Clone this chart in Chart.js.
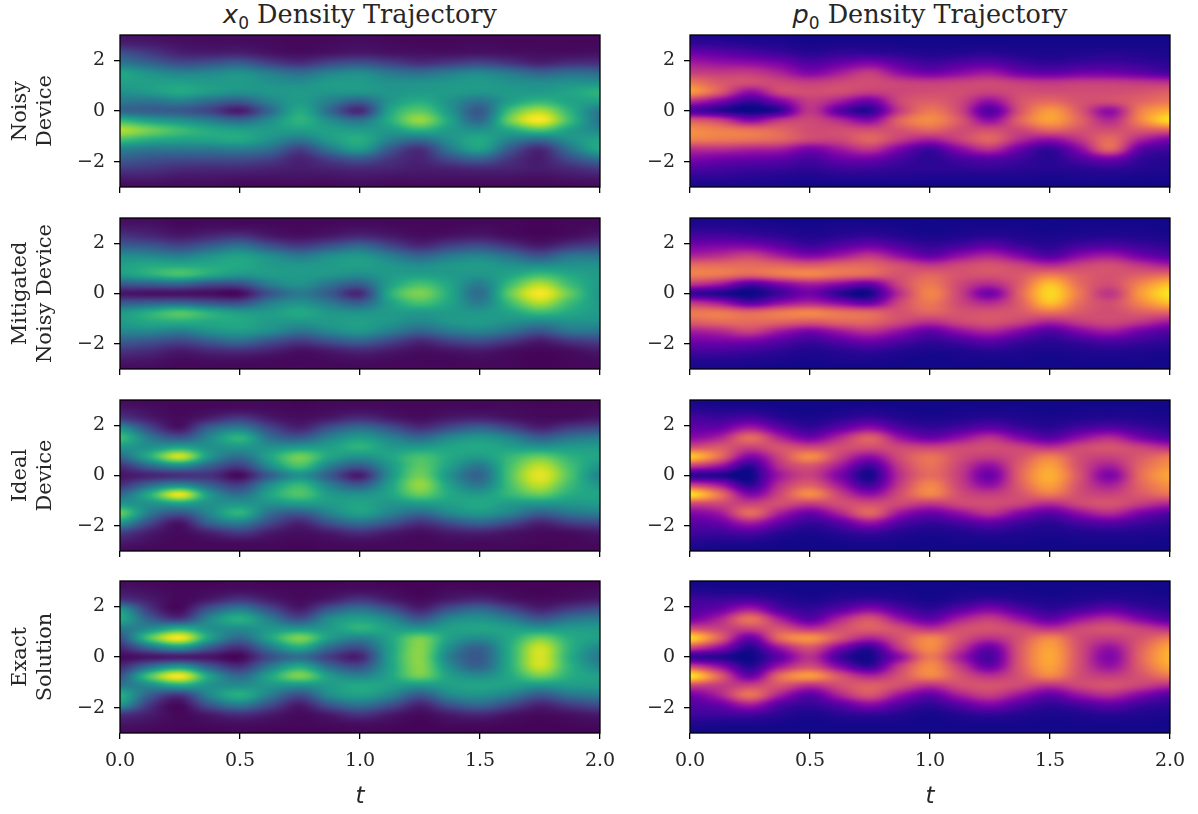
<!DOCTYPE html>
<html>
<head>
<meta charset="utf-8">
<title>Density Trajectory</title>
<script src="https://cdn.jsdelivr.net/npm/chart.js@4"></script>
<style>
    body { margin: 0; background: #fff; width: 1198px; height: 814px; overflow: hidden; position: relative; }
    canvas { position: absolute; }
    .title { position: absolute; top: 0; width: 480px; text-align: center; font: 25.5px "DejaVu Serif"; color: #262626; line-height: 28px; white-space: nowrap; }
    .title i { font-family: "DejaVu Sans"; }
    .title sub { font-family: "DejaVu Sans"; font-size: 17px; line-height: 0; }
</style>
</head>
<body>
<div class="title" style="left:120px"><i>x</i><sub>0</sub> Density Trajectory</div>
<div class="title" style="left:690px"><i>p</i><sub>0</sub> Density Trajectory</div>
<canvas id="c0"></canvas><canvas id="c1"></canvas><canvas id="c2"></canvas><canvas id="c3"></canvas>
<canvas id="c4"></canvas><canvas id="c5"></canvas><canvas id="c6"></canvas><canvas id="c7"></canvas>
<script>
// grid the densities were read on
const times = [0, 0.125, 0.25, 0.375, 0.5, 0.625, 0.75, 0.875, 1, 1.125, 1.25, 1.375, 1.5, 1.625, 1.75, 1.875, 2];
const positions = [3, 2.625, 2.25, 1.875, 1.5, 1.125, 0.75, 0.375, 0, -0.375, -0.75, -1.125, -1.5, -1.875, -2.25, -2.625, -3];
const xTicks = [0, 0.5, 1, 1.5, 2];
const yTicks = [-2, 0, 2];
const rowLabels = [['Noisy', 'Device'], ['Mitigated', 'Noisy Device'], ['Ideal', 'Device'], ['Exact', 'Solution']];

// one line per time, top (x=3) to bottom (x=-3), percent of the colour range
const x0Noisy = [
    [5,10,26,40,58,56,50,40,33,66,88,70,44,30,18,8,3],
    [4,8,18,32,50,56,54,38,30,56,78,62,40,26,16,8,3],
    [3,5,10,24,44,56,60,42,28,50,68,58,40,24,13,6,3],
    [3,4,9,26,46,54,54,34,20,42,60,58,40,24,12,6,3],
    [3,4,10,30,50,54,50,28,8,34,56,60,42,24,12,5,2],
    [3,3,6,20,42,50,52,44,34,48,54,50,36,20,10,5,2],
    [2,2,4,14,36,48,54,54,60,64,56,40,20,10,8,5,2],
    [2,3,6,22,44,54,52,42,34,48,56,54,40,20,10,5,2],
    [3,4,8,26,48,54,52,30,12,38,54,62,54,28,12,6,3],
    [2,3,6,20,40,50,52,52,58,62,54,44,28,16,10,5,2],
    [2,2,5,14,36,50,54,62,74,84,64,36,14,10,8,5,2],
    [2,2,5,18,42,52,54,50,52,58,54,50,40,24,10,5,2],
    [2,3,6,22,46,54,52,38,28,34,50,60,56,32,12,5,2],
    [2,2,5,16,40,50,54,56,70,78,60,44,28,16,10,5,2],
    [2,2,4,10,32,48,54,66,88,99,72,36,12,8,8,4,2],
    [2,2,4,14,36,50,58,58,64,68,56,50,38,24,12,6,2],
    [2,2,5,14,34,50,64,56,40,38,46,58,60,38,18,7,3]
];
const x0Mitigated = [
    [3,7,16,30,48,56,54,28,6,28,52,54,46,30,16,7,3],
    [3,6,12,28,46,60,62,30,5,30,62,60,46,27,13,6,3],
    [2,3,8,22,42,60,70,32,5,32,72,62,42,22,8,3,2],
    [2,4,12,30,50,60,60,24,4,26,62,60,50,30,12,4,2],
    [2,4,16,38,56,60,52,24,3,24,54,60,54,36,14,4,2],
    [2,3,8,26,48,54,54,42,26,42,54,54,48,26,10,3,2],
    [2,2,5,18,40,52,54,50,40,50,60,52,38,18,5,2,2],
    [2,3,8,26,48,54,52,38,28,40,52,54,46,26,8,3,2],
    [2,4,12,34,52,56,48,30,12,30,50,56,52,32,12,4,2],
    [2,3,8,22,42,52,54,56,62,56,54,52,42,22,8,3,2],
    [2,2,4,12,32,48,56,70,80,70,54,46,32,12,4,2,2],
    [2,2,6,20,40,52,54,58,60,58,54,52,40,20,6,2,2],
    [2,3,8,24,44,54,52,42,36,42,52,54,44,24,8,3,2],
    [2,2,4,16,36,50,58,68,76,68,58,50,36,16,4,2,2],
    [1,1,2,8,26,48,68,88,99,88,68,46,26,8,2,1,1],
    [2,2,4,16,38,50,60,68,76,68,60,50,38,16,4,2,2],
    [2,3,8,20,38,50,54,54,52,54,54,50,38,20,8,3,2]
];
const x0Ideal = [
    [3,7,18,50,68,52,34,14,6,14,34,52,76,52,20,8,3],
    [2,4,8,22,40,50,62,34,10,34,62,50,40,22,8,4,2],
    [2,2,3,6,26,58,92,46,14,46,96,56,26,6,3,2,2],
    [2,3,10,32,46,50,52,30,14,30,52,50,46,32,10,3,2],
    [2,4,18,42,64,52,36,18,3,18,36,52,64,42,18,4,2],
    [2,3,8,22,36,50,58,48,30,48,58,50,36,22,8,3,2],
    [1,2,4,10,28,54,78,70,50,66,72,54,28,10,4,2,1],
    [2,3,8,26,44,56,58,42,28,42,54,54,44,26,8,3,2],
    [2,4,14,36,54,64,50,28,8,28,50,58,56,36,14,4,2],
    [2,3,8,26,44,54,58,52,50,56,58,52,44,26,8,3,2],
    [2,2,4,14,34,54,70,74,78,84,76,54,34,14,4,2,2],
    [2,3,8,24,46,58,60,56,50,56,60,56,46,24,8,3,2],
    [2,3,10,32,52,60,54,40,32,40,54,60,52,32,10,3,2],
    [2,3,6,22,44,56,66,70,72,70,66,54,44,22,6,3,2],
    [1,2,3,10,30,52,76,90,96,90,76,52,30,10,3,2,1],
    [2,2,4,18,38,54,64,70,72,68,62,52,38,18,4,2,2],
    [2,3,7,22,42,54,58,52,44,52,58,54,42,22,7,3,2]
];
const x0Exact = [
    [3,6,16,52,60,40,26,12,3,12,26,40,62,52,16,6,3],
    [2,4,8,16,30,48,72,36,6,36,72,48,30,16,8,4,2],
    [1,2,2,3,16,62,98,52,8,52,98,60,16,3,2,2,1],
    [1,3,8,28,46,50,56,28,6,28,56,50,46,28,8,3,1],
    [2,4,16,42,62,48,34,14,2,14,34,48,62,42,14,4,2],
    [1,3,8,24,42,52,58,40,24,40,58,52,42,24,8,3,1],
    [1,2,3,8,24,52,80,60,36,60,80,50,24,8,3,2,1],
    [1,3,8,28,48,54,54,34,18,34,54,54,48,28,8,3,1],
    [2,4,16,38,56,64,44,24,10,24,44,60,56,38,16,4,2],
    [1,3,8,26,46,56,58,56,56,56,58,56,46,26,8,3,1],
    [1,1,3,10,28,52,78,82,82,82,78,52,28,10,3,1,1],
    [1,3,8,26,46,56,56,48,42,48,56,56,46,26,8,3,1],
    [1,3,12,34,50,58,48,32,28,32,48,58,50,34,12,3,1],
    [1,2,6,22,42,56,60,62,62,62,60,56,42,22,6,2,1],
    [1,1,3,10,28,52,78,92,94,92,78,52,28,10,3,1,1],
    [1,2,5,18,38,54,62,64,62,64,62,54,38,18,5,2,1],
    [1,3,8,24,42,54,56,46,40,46,56,54,42,24,8,3,1]
];
const p0Noisy = [
    [4,8,22,36,48,66,76,40,14,56,72,68,42,26,14,6,2],
    [3,7,18,32,46,56,56,24,6,48,68,66,42,22,12,6,2],
    [2,5,14,30,46,52,30,8,0,28,64,64,38,20,10,5,2],
    [2,4,10,24,38,50,50,24,8,44,60,60,36,18,9,4,2],
    [1,2,6,14,26,46,52,46,44,50,52,50,24,12,7,3,1],
    [1,3,8,20,36,50,52,34,16,40,52,50,34,20,10,4,1],
    [1,3,8,26,46,52,46,20,6,28,52,60,44,22,10,4,1],
    [1,2,6,16,30,48,50,50,46,60,54,46,24,12,7,4,1],
    [1,2,4,10,22,46,52,58,66,72,60,36,10,6,6,3,1],
    [1,2,5,14,28,48,52,50,50,56,52,48,28,12,7,3,1],
    [1,2,6,16,34,50,48,30,14,30,52,60,42,16,8,3,1],
    [1,2,4,10,22,46,52,54,54,60,50,40,20,10,6,3,1],
    [1,2,3,7,18,44,52,62,76,78,60,30,8,5,5,2,1],
    [1,2,4,9,22,46,52,54,56,60,54,44,28,14,6,3,1],
    [1,2,5,10,22,46,52,52,30,40,52,62,60,24,8,3,1],
    [1,2,4,8,18,44,54,60,68,70,56,38,18,8,5,2,1],
    [1,2,3,6,12,42,58,66,82,94,58,24,10,5,4,2,1]
];
const p0Mitigated = [
    [2,5,12,24,38,62,68,44,8,44,66,58,36,22,12,5,2],
    [2,5,12,26,42,62,66,34,4,34,66,62,40,24,12,5,2],
    [2,4,10,26,48,62,60,14,0,16,60,62,48,24,10,4,2],
    [1,3,7,18,36,60,66,26,10,30,66,60,34,16,7,3,1],
    [1,2,4,10,26,56,70,36,22,38,70,56,24,10,4,2,1],
    [1,3,6,16,34,60,64,28,6,28,64,60,34,16,6,3,1],
    [1,3,8,22,44,60,60,20,2,20,60,60,42,22,8,3,1],
    [1,2,5,14,30,52,54,50,42,50,54,50,30,14,5,2,1],
    [1,1,3,8,18,44,60,66,70,66,60,42,18,8,3,1,1],
    [1,2,4,12,30,50,54,50,48,50,54,50,30,12,4,2,1],
    [1,2,6,18,38,54,54,40,22,40,54,54,38,18,6,2,1],
    [1,2,4,10,26,48,56,58,60,58,56,48,26,10,4,2,1],
    [1,1,3,6,14,40,66,86,92,86,64,38,14,6,3,1,1],
    [1,2,4,12,28,48,58,62,66,62,56,46,26,10,4,2,1],
    [1,2,5,14,34,52,54,52,44,52,52,50,34,14,5,2,1],
    [1,2,4,10,22,44,58,70,76,70,58,44,22,10,4,2,1],
    [1,1,3,7,14,36,62,86,96,86,60,34,14,7,3,1,1]
];
const p0Ideal = [
    [2,5,12,18,28,52,88,46,6,48,94,50,26,16,10,5,2],
    [1,4,10,20,38,56,62,32,4,34,64,50,34,20,10,4,1],
    [1,4,14,36,62,48,26,6,0,6,26,48,62,36,14,4,1],
    [1,2,6,18,38,54,50,42,34,42,50,52,36,18,6,2,1],
    [1,1,3,8,22,50,72,54,48,58,72,46,20,8,3,1,1],
    [1,2,6,18,40,52,48,34,24,34,48,52,38,16,6,2,1],
    [1,3,10,30,58,52,30,10,2,10,30,52,60,32,10,3,1],
    [1,2,5,14,32,50,52,46,42,46,52,50,32,14,5,2,1],
    [1,1,3,8,20,48,64,64,62,70,70,44,20,8,3,1,1],
    [1,2,4,12,30,50,52,48,46,48,52,50,30,12,4,2,1],
    [1,2,6,18,42,52,46,30,20,30,46,52,42,18,6,2,1],
    [1,2,4,10,26,48,54,58,60,58,54,48,26,10,4,2,1],
    [1,1,3,6,16,42,68,78,82,78,66,40,16,6,3,1,1],
    [1,2,4,12,30,50,52,52,54,52,52,50,30,12,4,2,1],
    [1,2,5,16,40,54,48,36,25,36,48,54,40,16,5,2,1],
    [1,2,4,10,24,48,56,60,62,60,56,46,24,10,4,2,1],
    [1,1,3,6,14,40,66,74,80,74,64,38,14,6,3,1,1]
];
const p0Exact = [
    [1,4,10,14,22,52,92,50,8,50,96,50,22,14,10,4,1],
    [1,3,10,20,38,48,58,30,5,30,58,46,38,20,10,3,1],
    [1,3,12,36,64,48,20,5,0,5,20,48,64,36,12,3,1],
    [1,2,6,14,36,54,62,34,18,34,62,54,36,14,6,2,1],
    [1,1,3,8,16,42,74,54,42,52,76,42,16,8,3,1,1],
    [1,2,6,16,38,52,54,26,10,26,54,52,38,16,6,2,1],
    [1,2,8,28,54,58,38,8,2,8,38,58,54,28,8,2,1],
    [1,2,5,14,32,52,54,46,30,46,54,52,32,14,5,2,1],
    [1,1,2,7,18,42,70,72,66,72,70,42,18,7,2,1,1],
    [1,2,5,16,36,52,54,46,36,46,54,52,36,16,5,2,1],
    [1,2,8,26,46,54,42,20,12,20,42,54,46,26,8,2,1],
    [1,2,5,14,32,50,54,56,56,56,54,50,32,14,5,2,1],
    [1,1,3,7,18,42,70,78,80,78,70,42,18,7,3,1,1],
    [1,2,4,12,32,50,52,52,52,52,52,50,32,12,4,2,1],
    [1,2,6,18,40,54,46,32,26,32,46,54,40,18,6,2,1],
    [1,2,4,10,26,48,54,58,60,58,54,48,26,10,4,2,1],
    [1,1,3,6,14,40,66,80,84,80,66,40,14,6,3,1,1]
];

const viridis = ['#440154', '#482475', '#414487', '#355f8d', '#2a788e', '#21918c', '#22a884', '#44bf70', '#7ad151', '#bddf26', '#fde725'];
const plasma = ['#0d0887', '#41049d', '#6a00a8', '#8f0da4', '#b12a90', '#cc4778', '#e16462', '#f2844b', '#fca636', '#fcce25', '#f0f921'];

function colorAt(stops, v) {
    const f = Math.min(Math.max(v, 0), 0.9999) * (stops.length - 1);
    const i = Math.floor(f);
    const a = parseInt(stops[i].slice(1), 16), b = parseInt(stops[i + 1].slice(1), 16);
    const mix = (s) => ((a >> s) & 255) * (1 - (f - i)) + ((b >> s) & 255) * (f - i);
    return [mix(16), mix(8), mix(0)];
}

function catmull(p0, p1, p2, p3, u) {
    return p1 + 0.5 * u * (p2 - p0 + u * (2 * p0 - 5 * p1 + 4 * p2 - p3 + u * (3 * (p1 - p2) + p3 - p0)));
}

// like imshow with bicubic interpolation over the read values
function sample(grid, ft, fy) {
    const last = grid.length - 1;
    const lastRow = grid[0].length - 1;
    const ci = Math.min(Math.floor(ft), last - 1), ri = Math.min(Math.floor(fy), lastRow - 1);
    const row = (r) => {
        const rr = Math.min(Math.max(r, 0), lastRow);
        return catmull(
            grid[Math.max(ci - 1, 0)][rr], grid[ci][rr],
            grid[ci + 1][rr], grid[Math.min(ci + 2, last)][rr], ft - ci);
    };
    return catmull(row(ri - 1), row(ri), row(ri + 1), row(ri + 2), fy - ri);
}

const heatPlugin = {
    id: 'heat',
    beforeDatasetsDraw(chart) {
        const ds = chart.data.datasets[0];
        const area = chart.chartArea;
        const w = Math.round(area.right - area.left), h = Math.round(area.bottom - area.top);
        const off = document.createElement('canvas');
        off.width = w;
        off.height = h;
        const octx = off.getContext('2d');
        const img = octx.createImageData(w, h);
        const tStep = times[1] - times[0], yStep = positions[0] - positions[1];
        for (let py = 0; py < h; py++) {
            const fy = (positions[0] - chart.scales.y.getValueForPixel(area.top + py + 0.5)) / yStep;
            for (let px = 0; px < w; px++) {
                const ft = chart.scales.x.getValueForPixel(area.left + px + 0.5) / tStep;
                const c = colorAt(ds.stops, sample(ds.grid, ft, fy) / 100);
                const k = (py * w + px) * 4;
                img.data[k] = c[0];
                img.data[k + 1] = c[1];
                img.data[k + 2] = c[2];
                img.data[k + 3] = 255;
            }
        }
        octx.putImageData(img, 0, 0);
        chart.ctx.drawImage(off, area.left, area.top, area.right - area.left, area.bottom - area.top);
    },
    afterDraw(chart) {
        const area = chart.chartArea;
        chart.ctx.save();
        chart.ctx.strokeStyle = '#000';
        chart.ctx.lineWidth = 1.3;
        chart.ctx.strokeRect(area.left, area.top, area.right - area.left, area.bottom - area.top);
        chart.ctx.restore();
    }
};

const panelTops = [35, 218, 400, 581];
const panelBottoms = [187, 369, 551, 733];
const panels = [x0Noisy, x0Mitigated, x0Ideal, x0Exact, p0Noisy, p0Mitigated, p0Ideal, p0Exact];

function noScalePadding(axis) {
    axis.paddingTop = 0;
    axis.paddingBottom = 0;
    axis.paddingLeft = 0;
    axis.paddingRight = 0;
}

panels.forEach((grid, n) => {
    const col = n < 4 ? 0 : 1;
    const row = n % 4;
    const canvas = document.getElementById('c' + n);
    const isBottom = row === 3;
    const canvasLeft = col === 0 ? 0 : 610;
    const axisWidth = col === 0 ? 120 : 80;
    const plotRight = col === 0 ? 600 : 1170;
    const canvasWidth = col === 0 ? 630 : 588;
    const bottomRoom = isBottom ? 78 : 10;
    canvas.width = canvasWidth;
    canvas.height = panelBottoms[row] - panelTops[row] + 5 + bottomRoom;
    canvas.style.left = canvasLeft + 'px';
    canvas.style.top = (panelTops[row] - 5) + 'px';
    canvas.style.width = canvas.width + 'px';
    canvas.style.height = canvas.height + 'px';

    const points = [];
    times.forEach((t, i) => positions.forEach((p, j) => points.push({ x: t, y: p, v: grid[i][j] })));

    new Chart(canvas, {
        type: 'scatter',
        data: { datasets: [{ data: points, grid: grid, stops: col === 0 ? viridis : plasma, pointRadius: 0 }] },
        plugins: [heatPlugin],
        options: {
            responsive: false,
            animation: false,
            events: [],
            layout: { padding: { top: 5, left: 0, right: canvasWidth - (plotRight - canvasLeft), bottom: 0 } },
            plugins: { legend: { display: false }, tooltip: { enabled: false } },
            scales: {
                x: {
                    type: 'linear', min: 0, max: 2,
                    afterBuildTicks: (axis) => { axis.ticks = xTicks.map((v) => ({ value: v })); },
                    afterFit: (axis) => { axis.height = bottomRoom; noScalePadding(axis); },
                    grid: { drawOnChartArea: false, color: '#000', lineWidth: 1.3, tickLength: 6 },
                    border: { display: false },
                    ticks: {
                        display: isBottom, maxRotation: 0, color: '#262626', padding: 11,
                        font: { family: 'DejaVu Serif', size: 19 },
                        callback: (v) => v.toFixed(1)
                    },
                    title: {
                        display: isBottom, text: 't', color: '#262626', padding: { top: 5, bottom: 0 },
                        font: { family: 'DejaVu Sans', style: 'italic', size: 23 }
                    }
                },
                y: {
                    type: 'linear', min: -3, max: 3,
                    afterBuildTicks: (axis) => { axis.ticks = yTicks.map((v) => ({ value: v })); },
                    afterFit: (axis) => { axis.width = axisWidth; noScalePadding(axis); },
                    grid: { drawOnChartArea: false, color: '#000', lineWidth: 1.3, tickLength: 6 },
                    border: { display: false },
                    ticks: {
                        color: '#262626', padding: 9,
                        font: { family: 'DejaVu Serif', size: 19 },
                        callback: (v) => String(v).replace('-', '\u2212')
                    },
                    title: {
                        display: col === 0, text: rowLabels[row], color: '#262626', padding: { top: 8, bottom: 0 },
                        font: { family: 'DejaVu Serif', size: 21, lineHeight: 1.18 }
                    }
                }
            }
        }
    });
});
</script>
</body>
</html>
